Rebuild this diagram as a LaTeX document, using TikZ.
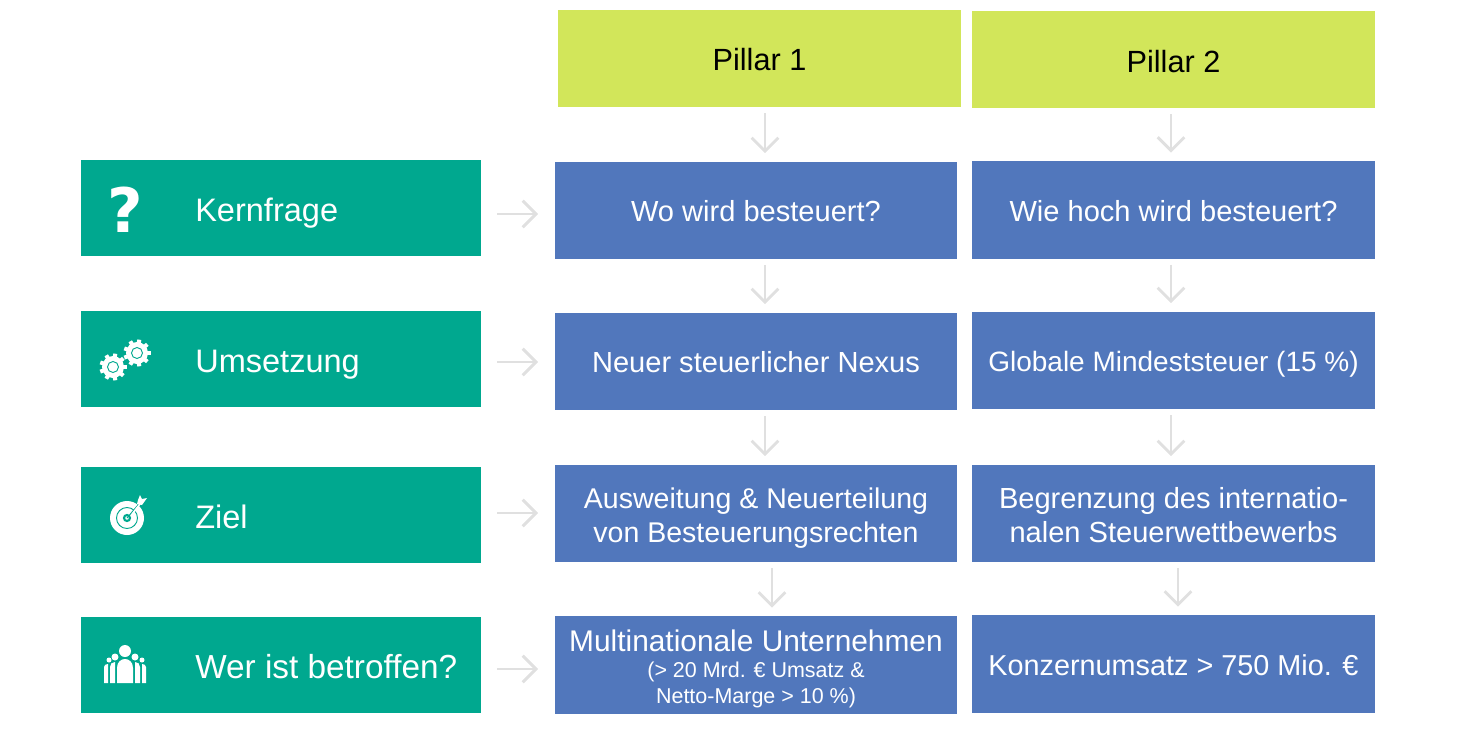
\documentclass[tikz,border=0pt]{standalone}
\usepackage{fontspec}
\setmainfont{Liberation Sans}
\newfontfamily\iconfont{DejaVu Sans}
\usetikzlibrary{arrows.meta}
\definecolor{rowgreen}{RGB}{0,168,143}
\definecolor{cellblue}{RGB}{81,119,188}
\definecolor{pillarlime}{RGB}{210,230,90}
\definecolor{flowgrey}{RGB}{224,224,224}
\newcommand{\cellfont}[1]{\fontsize{#1}{25.5}\selectfont}
\tikzset{
  pillarbox/.style={fill=pillarlime,inner sep=0pt,outer sep=0pt,minimum width=302.25pt,minimum height=72.75pt,font=\fontsize{23}{27}\selectfont,text=black,text height=18.7pt,text depth=0pt},
  rowbox/.style={fill=rowgreen,inner sep=0pt,outer sep=0pt,minimum width=300pt,minimum height=72.5pt},
  rowlabel/.style={anchor=base west,inner sep=0pt,text=white,font=\fontsize{24.4}{29}\selectfont},
  cellbox/.style={fill=cellblue,inner sep=0pt,outer sep=0pt,minimum width=302pt,minimum height=73pt,text=white,align=center,font=\cellfont{21.8},text height=17.2pt,text depth=0pt},
  celltwo/.style={cellbox,text height=42.8pt},
  cellthree/.style={cellbox,text height=57pt},
  flowdown/.style={draw=flowgrey,line width=2.2pt,-{Straight Barb[length=10pt,width=20pt]},shorten <=4.5pt,shorten >=6.5pt},
  flowright/.style={draw=flowgrey,line width=2.2pt,-{Straight Barb[length=10pt,width=20pt]},shorten <=12pt,shorten >=12.5pt},
}
\begin{document}
\begin{tikzpicture}[x=0.75pt,y=0.75pt,yscale=-1,xscale=1]
\useasboundingbox (0,0) rectangle (1458,731);

% Pillars
\draw (759.5,58.5) node (pillarA) [pillarbox] {Pillar 1};
\draw (1173.5,60) node (pillarB) [pillarbox] {Pillar 2};

% Rows
\draw (281,208) node (kernfrage) [rowbox] {};
\draw (281,359) node (umsetzung) [rowbox] {};
\draw (281,515) node (ziel) [rowbox] {};
\draw (281,665) node (betroffen) [rowbox] {};
\draw (195,221) node (kernfragetext) [rowlabel] {Kernfrage};
\draw (195,372) node (umsetzungtext) [rowlabel] {Umsetzung};
\draw (195,528) node (zieltext) [rowlabel] {Ziel};
\draw (195,678) node (betroffentext) [rowlabel,font=\fontsize{25}{29}\selectfont] {Wer ist betroffen?};

% Cells Pillar 1
\draw (756,210.5) node (kernA) [cellbox] {Wo wird besteuert?};
\draw (756,361.5) node (umsA) [cellbox] {Neuer steuerlicher Nexus};
\draw (756,513.5) node (zielA) [celltwo,font=\cellfont{21.4}] {Ausweitung \& Neuerteilung\\von Besteuerungsrechten};
\draw (756,665) node (werA) [cellthree,font=\cellfont{22.4}] {Multinationale Unternehmen\\[-6.25pt]{\fontsize{16.1}{20}\selectfont (> 20 Mrd. € Umsatz \&}\\[-6pt]{\fontsize{16.1}{20}\selectfont Netto-Marge > 10 \%)}};

% Cells Pillar 2
\draw (1173.5,210) node (kernB) [cellbox] {Wie hoch wird besteuert?};
\draw (1173.5,360.5) node (umsB) [cellbox,font=\cellfont{21}] {Globale Mindeststeuer (15 \%)};
\draw (1173.5,513.5) node (zielB) [celltwo] {Begrenzung des internatio-\\nalen Steuerwettbewerbs};
\draw (1173.5,664) node (werB) [cellbox,font=\cellfont{21.6}] {Konzernumsatz > 750 Mio. €};

% Arrow lanes
\coordinate (laneA) at (765,0);
\coordinate (laneB) at (1171,0);
\coordinate (laneAlast) at (772,0);
\coordinate (laneBlast) at (1178,0);
\coordinate (rowK) at (0,214);
\coordinate (rowU) at (0,362);
\coordinate (rowZ) at (0,513);
\coordinate (rowW) at (0,669);

% Arrows down
\draw [flowdown] (pillarA.south -| laneA) -- (kernA.north -| laneA);
\draw [flowdown] (kernA.south -| laneA) -- (umsA.north -| laneA);
\draw [flowdown] (umsA.south -| laneA) -- (zielA.north -| laneA);
\draw [flowdown] (zielA.south -| laneAlast) -- (werA.north -| laneAlast);
\draw [flowdown] (pillarB.south -| laneB) -- (kernB.north -| laneB);
\draw [flowdown] (kernB.south -| laneB) -- (umsB.north -| laneB);
\draw [flowdown] (umsB.south -| laneB) -- (zielB.north -| laneB);
\draw [flowdown] (zielB.south -| laneBlast) -- (werB.north -| laneBlast);

% Arrows right
\draw [flowright] (kernfrage.east |- rowK) -- (kernA.west |- rowK);
\draw [flowright] (umsetzung.east |- rowU) -- (umsA.west |- rowU);
\draw [flowright] (ziel.east |- rowZ) -- (zielA.west |- rowZ);
\draw [flowright] (betroffen.east |- rowW) -- (werA.west |- rowW);

% Icon question mark
\draw (125.5,210) node (frageicon) [inner sep=0pt,text=white,font=\iconfont\fontsize{46}{46}\bfseries\selectfont] {?};

% Icon gears
\foreach \gx/\gy in {113/367,137/353}{
  \foreach \a in {0,40,...,320}{
    \draw [white,line width=3pt] (\gx,\gy) -- ++(\a:13.5);
  }
  \fill [white] (\gx,\gy) circle [radius=11];
  \draw [rowgreen,line width=0.7pt] (\gx,\gy) circle [radius=5.5];
}

% Icon target
\fill [white] (127,518) circle [radius=17];
\draw [rowgreen,line width=0.7pt] (127,518) circle [radius=10.5];
\draw [rowgreen,line width=1.6pt] (127,518) circle [radius=3];
\draw [rowgreen,line width=0.7pt] (127,518) -- (138,505);
\draw [white,line width=1.2pt] (133,513) -- (143,500);
\fill [white] (138,500) -- (140,495) -- (142,499) -- (147,498) -- (142,505) -- (137,504) -- cycle;

% Icon people
\fill [white] (125,651) circle [radius=6];
\fill [white] (115,657) circle [radius=3.5];
\fill [white] (135,657) circle [radius=3.5];
\fill [white] (109,660) circle [radius=2.5];
\fill [white] (142,660) circle [radius=2.5];
\fill [white] (117,683) -- (117,668) .. controls (117,662) and (121,659) .. (125,659) .. controls (129,659) and (133,662) .. (133,668) -- (133,683) -- cycle;
\fill [white] (110,683) -- (110,667) .. controls (110,664) and (112,662) .. (115,662) -- (115,683) -- cycle;
\fill [white] (140,683) -- (140,667) .. controls (140,664) and (138,662) .. (135,662) -- (135,683) -- cycle;
\fill [white] (104,683) -- (104,667) .. controls (104,665) and (106,664) .. (108,664) -- (108,683) -- cycle;
\fill [white] (146,683) -- (146,667) .. controls (146,665) and (144,664) .. (142,664) -- (142,683) -- cycle;

\end{tikzpicture}
\end{document}
